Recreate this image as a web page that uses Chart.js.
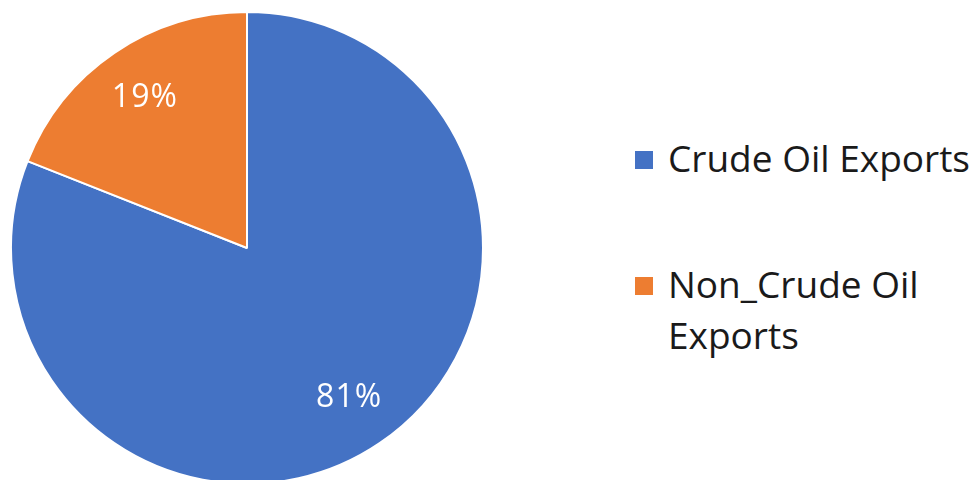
<!DOCTYPE html>
<html>
<head>
<meta charset="utf-8">
<script src="https://cdn.jsdelivr.net/npm/chart.js@4"></script>
<style>
    html, body { margin: 0; padding: 0; background: #fff; overflow: hidden; }
    body { width: 978px; height: 480px; position: relative; font-family: "Open Sans", sans-serif; }
    #pieBox { position: absolute; left: 10px; top: 11px; width: 474px; height: 474px; }
    #legendBox { position: absolute; left: 635px; top: 132px; width: 343px; }
    .legendItem { position: relative; padding-left: 33px; font-size: 37px; line-height: 51px; color: #1a1a1a; margin-bottom: 75px; white-space: nowrap; }
    .legendItem span { position: absolute; left: 0; top: 19px; width: 18px; height: 18px; }
</style>
</head>
<body>
<div id="pieBox"><canvas id="pieCanva"></canvas></div>
<div id="legendBox"></div>
<script>
// Chart data
const categories = ["Crude Oil Exports", "Non_Crude Oil Exports"];
const legendLines = [["Crude Oil Exports"], ["Non_Crude Oil", "Exports"]];
const shares = [81, 19];
const colors = ["#4472c4", "#ed7d31"];

// Percent labels inside the slices
const sliceLabels = {
    id: "sliceLabels",
    afterDatasetsDraw(chart) {
        const ctx = chart.ctx;
        const meta = chart.getDatasetMeta(0);
        ctx.save();
        ctx.fillStyle = "#ffffff";
        ctx.font = "32px 'Open Sans', sans-serif";
        ctx.letterSpacing = "1px";
        ctx.textAlign = "center";
        ctx.textBaseline = "middle";
        meta.data.forEach((arc, i) => {
            const mid = (arc.startAngle + arc.endAngle) / 2;
            const r = arc.outerRadius * 0.77;
            ctx.fillText(shares[i] + "%", arc.x + Math.cos(mid) * r, arc.y + Math.sin(mid) * r);
        });
        ctx.restore();
    }
};

new Chart(document.querySelector("#pieCanva"), {
    type: "pie",
    data: {
        labels: categories,
        datasets: [{
            data: shares,
            backgroundColor: colors,
            borderColor: "#ffffff",
            borderWidth: 2
        }]
    },
    options: {
        responsive: true,
        maintainAspectRatio: false,
        animation: false,
        layout: { padding: 0 },
        plugins: {
            legend: { display: false },
            tooltip: { enabled: false }
        }
    },
    plugins: [sliceLabels]
});

// Legend built from the same arrays
const legendBox = document.querySelector("#legendBox");
categories.forEach((cat, i) => {
    const item = document.createElement("div");
    item.className = "legendItem";
    const box = document.createElement("span");
    box.style.background = colors[i];
    item.appendChild(box);
    item.innerHTML += legendLines[i].join("<br>");
    legendBox.appendChild(item);
});
</script>
</body>
</html>
